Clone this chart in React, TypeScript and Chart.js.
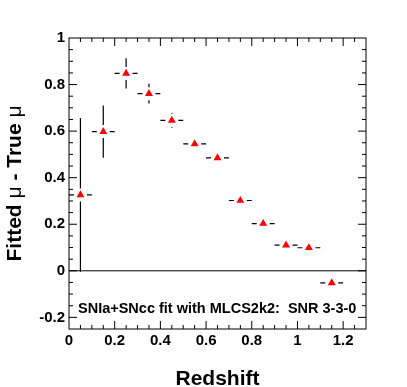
import React, { useEffect, useRef } from "react";
import { Chart, registerables } from "chart.js";

Chart.register(...registerables);

// ---- data ----
const redshift = [0.05, 0.15, 0.25, 0.35, 0.45, 0.55, 0.65, 0.75, 0.85, 0.95, 1.05, 1.15];
const muDiff = [0.326, 0.598, 0.848, 0.761, 0.646, 0.545, 0.485, 0.302, 0.203, 0.11, 0.099, -0.052];
const muErr = [0.33, 0.112, 0.065, 0.042, 0.031, 0.02, 0.02, 0.015, 0.015, 0.015, 0.015, 0.02];
const zErr = [0.05, 0.05, 0.05, 0.05, 0.05, 0.05, 0.05, 0.05, 0.05, 0.05, 0.05, 0.05];

const xTickValues = [0, 0.2, 0.4, 0.6, 0.8, 1, 1.2];
const xTickLabels = ["0", "0.2", "0.4", "0.6", "0.8", "1", "1.2"];
const yTickValues = [-0.2, 0, 0.2, 0.4, 0.6, 0.8, 1];
const yTickLabels = ["-0.2", "0", "0.2", "0.4", "0.6", "0.8", "1"];

const xRange = [0, 1.3];
const yRange = [-0.25, 1];
const minorStep = 0.05;

const annotation = "SNIa+SNcc fit with MLCS2k2:  SNR 3-3-0";
const xTitle = "Redshift";
const yTitleParts: { t: string; bold: boolean }[] = [
  { t: "Fitted ", bold: true },
  { t: "\u03bc", bold: false },
  { t: " - True ", bold: true },
  { t: "\u03bc", bold: false },
];

const FONT = "'Liberation Sans', Arial, Helvetica, sans-serif";

const rootPlugin = {
  id: "rootStyle",
  beforeDatasetsDraw(chart: any) {
    const { ctx, chartArea: a, scales } = chart;
    const xs = scales.x;
    const ys = scales.y;
    ctx.save();
    // zero line
    const y0 = ys.getPixelForValue(0);
    ctx.strokeStyle = "#000";
    ctx.lineWidth = 1;
    ctx.beginPath();
    ctx.moveTo(a.left, y0);
    ctx.lineTo(a.right, y0);
    ctx.stroke();

    // error bars
    const gap = 6.5;
    ctx.lineWidth = 1.2;
    ctx.strokeStyle = "#000";
    for (let i = 0; i < redshift.length; i++) {
      const cx = xs.getPixelForValue(redshift[i]);
      const cy = ys.getPixelForValue(muDiff[i]);
      const xl = xs.getPixelForValue(redshift[i] - zErr[i]);
      const xr = xs.getPixelForValue(redshift[i] + zErr[i]);
      const yt = ys.getPixelForValue(muDiff[i] + muErr[i]);
      const yb = ys.getPixelForValue(muDiff[i] - muErr[i]);
      ctx.beginPath();
      if (cx - gap > xl) { ctx.moveTo(xl, cy); ctx.lineTo(cx - gap, cy); }
      if (cx + gap < xr) { ctx.moveTo(cx + gap, cy); ctx.lineTo(xr, cy); }
      if (cy - gap > yt) { ctx.moveTo(cx, yt); ctx.lineTo(cx, cy - gap); }
      if (cy + gap < yb) { ctx.moveTo(cx, cy + gap); ctx.lineTo(cx, yb); }
      ctx.stroke();
    }
    ctx.restore();
  },
  afterDraw(chart: any) {
    const { ctx, chartArea: a, scales } = chart;
    const xs = scales.x;
    const ys = scales.y;
    ctx.save();
    ctx.strokeStyle = "#000";
    ctx.lineWidth = 1;
    // frame
    ctx.strokeRect(a.left, a.top, a.right - a.left, a.bottom - a.top);
    // ticks
    ctx.beginPath();
    const isMajor = (v: number) => Math.abs(v / 0.2 - Math.round(v / 0.2)) < 1e-6;
    const nx = Math.round((xRange[1] - xRange[0]) / minorStep);
    for (let k = 1; k < nx; k++) {
      const v = xRange[0] + k * minorStep;
      const px = xs.getPixelForValue(v);
      const len = isMajor(v) ? 8 : 4;
      ctx.moveTo(px, a.bottom);
      ctx.lineTo(px, a.bottom - len);
      ctx.moveTo(px, a.top);
      ctx.lineTo(px, a.top + len);
    }
    const ny = Math.round((yRange[1] - yRange[0]) / minorStep);
    for (let k = 1; k < ny; k++) {
      const v = yRange[0] + k * minorStep;
      const py = ys.getPixelForValue(v);
      const len = isMajor(v) ? 8 : 4;
      ctx.moveTo(a.left, py);
      ctx.lineTo(a.left + len, py);
      ctx.moveTo(a.right, py);
      ctx.lineTo(a.right - len, py);
    }
    ctx.stroke();

    // annotation
    ctx.fillStyle = "#000";
    ctx.font = `bold 14.5px ${FONT}`;
    ctx.textAlign = "left";
    ctx.textBaseline = "alphabetic";
    ctx.fillText(annotation, 78, 312.7);

    // x title
    ctx.font = `bold 21px ${FONT}`;
    ctx.textAlign = "center";
    ctx.fillText(xTitle, (a.left + a.right) / 2, 385);

    // y title
    ctx.save();
    ctx.translate(21, (a.top + a.bottom) / 2);
    ctx.rotate(-Math.PI / 2);
    ctx.textAlign = "left";
    let total = 0;
    const widths = yTitleParts.map((p) => {
      ctx.font = `${p.bold ? "bold " : ""}21px ${FONT}`;
      const w = ctx.measureText(p.t).width;
      total += w;
      return w;
    });
    let xPos = -total / 2;
    yTitleParts.forEach((p, i) => {
      ctx.font = `${p.bold ? "bold " : ""}21px ${FONT}`;
      ctx.fillText(p.t, xPos, 0);
      xPos += widths[i];
    });
    ctx.restore();
    ctx.restore();
  },
};

export default function App() {
  const ref = useRef<HTMLCanvasElement | null>(null);
  useEffect(() => {
    if (!ref.current) return;
    const chart = new Chart(ref.current, {
      type: "scatter",
      data: {
        datasets: [
          {
            data: redshift.map((x, i) => ({ x, y: muDiff[i] })),
            pointStyle: "triangle",
            pointRadius: 4.6,
            pointHoverRadius: 4.6,
            backgroundColor: "#ff0000",
            borderColor: "#ff0000",
            borderWidth: 0,
          },
        ],
      },
      options: {
        animation: false,
        responsive: false,
        devicePixelRatio: 1,
        events: [],
        layout: { padding: { top: 38, right: 41, left: 0, bottom: 0 } },
        plugins: { legend: { display: false }, tooltip: { enabled: false } },
        scales: {
          x: {
            type: "linear",
            min: xRange[0],
            max: xRange[1],
            grid: { display: false, drawTicks: false },
            border: { display: false },
            afterBuildTicks: (s: any) => {
              s.ticks = xTickValues.map((v) => ({ value: v }));
            },
            afterFit: (s: any) => {
              s.height = 58;
            },
            ticks: {
              autoSkip: false,
              maxRotation: 0,
              padding: 3,
              color: "#000",
              font: { family: FONT, size: 15, weight: "bold" },
              callback: (v: any) => {
                const i = xTickValues.findIndex((t) => Math.abs(t - v) < 1e-9);
                return i >= 0 ? xTickLabels[i] : "";
              },
            },
          },
          y: {
            type: "linear",
            min: yRange[0],
            max: yRange[1],
            grid: { display: false, drawTicks: false },
            border: { display: false },
            afterBuildTicks: (s: any) => {
              s.ticks = yTickValues.map((v) => ({ value: v }));
            },
            afterFit: (s: any) => {
              s.width = 69;
            },
            ticks: {
              autoSkip: false,
              padding: 4,
              color: "#000",
              font: { family: FONT, size: 15, weight: "bold" },
              callback: (v: any) => {
                const i = yTickValues.findIndex((t) => Math.abs(t - v) < 1e-9);
                return i >= 0 ? yTickLabels[i] : "";
              },
            },
          },
        },
      },
      plugins: [rootPlugin],
    } as any);
    return () => chart.destroy();
  }, []);
  return (
    <div style={{ position: "absolute", left: 0, top: 0, width: 407, height: 387, background: "#fff" }}>
      <canvas ref={ref} width={407} height={387} style={{ display: "block", width: 407, height: 387 }} />
    </div>
  );
}
